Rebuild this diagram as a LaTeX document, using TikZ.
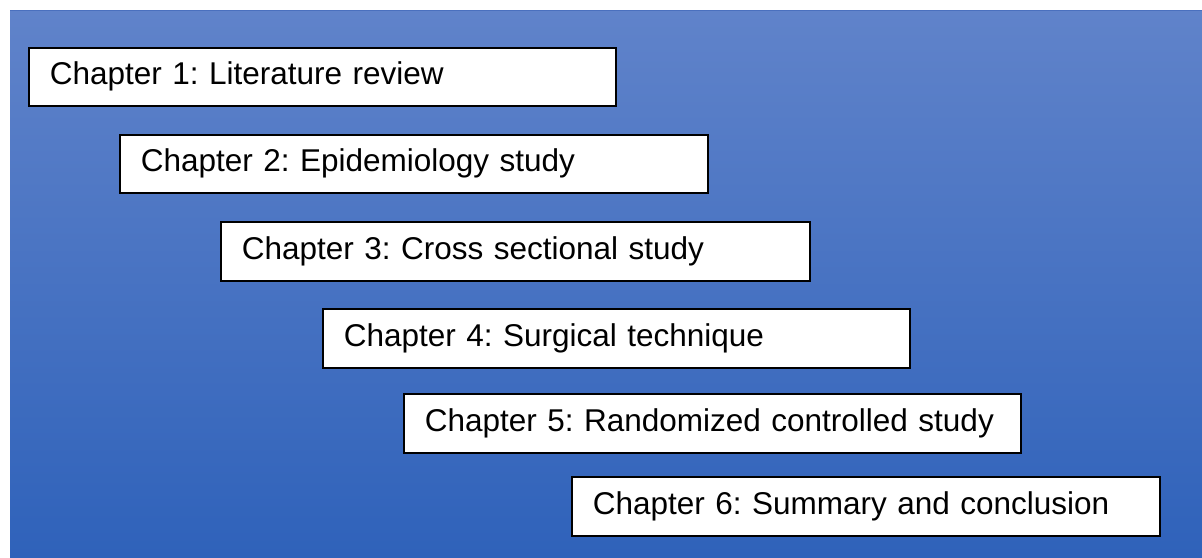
\documentclass[tikz,border=0pt]{standalone}
\usepackage{fontspec}
\setmainfont{Liberation Sans}
\definecolor{bgtop}{RGB}{96,131,202}
\definecolor{bgbot}{RGB}{47,98,186}
\definecolor{bgedge}{RGB}{74,112,190}
\begin{document}
\begin{tikzpicture}[x=1pt,y=-1pt,
  chapbox/.style={draw=black, line width=1.6pt, fill=white, anchor=north west,
    inner xsep=21pt, inner ysep=0pt, align=left,
    font=\fontsize{31.5}{36}\selectfont\frenchspacing, text=black}]
\useasboundingbox (0,0) rectangle (1202,557);
\fill[white] (0,0) rectangle (1202,557);
\shade[top color=bgtop, bottom color=bgbot] (10,10) rectangle (1202,557);
\draw[bgedge, line width=1pt] (10,10.5) -- (1202,10.5);
\node[chapbox, minimum width=587pt, minimum height=58pt, text width=545pt] (c1) at (28,47) {Chapter 1: Literature review};
\node[chapbox, minimum width=588pt, minimum height=58pt, text width=546pt] (c2) at (119,134) {Chapter 2: Epidemiology study};
\node[chapbox, minimum width=589pt, minimum height=59pt, text width=547pt] (c3) at (220,221) {Chapter 3: Cross sectional study};
\node[chapbox, minimum width=587pt, minimum height=59pt, text width=545pt] (c4) at (322,308) {Chapter 4: Surgical technique};
\node[chapbox, minimum width=617pt, minimum height=59pt, text width=575pt] (c5) at (403,393) {Chapter 5: Randomized controlled study};
\node[chapbox, minimum width=588pt, minimum height=59pt, text width=546pt] (c6) at (571,476) {Chapter 6: Summary and conclusion};
\end{tikzpicture}
\end{document}
